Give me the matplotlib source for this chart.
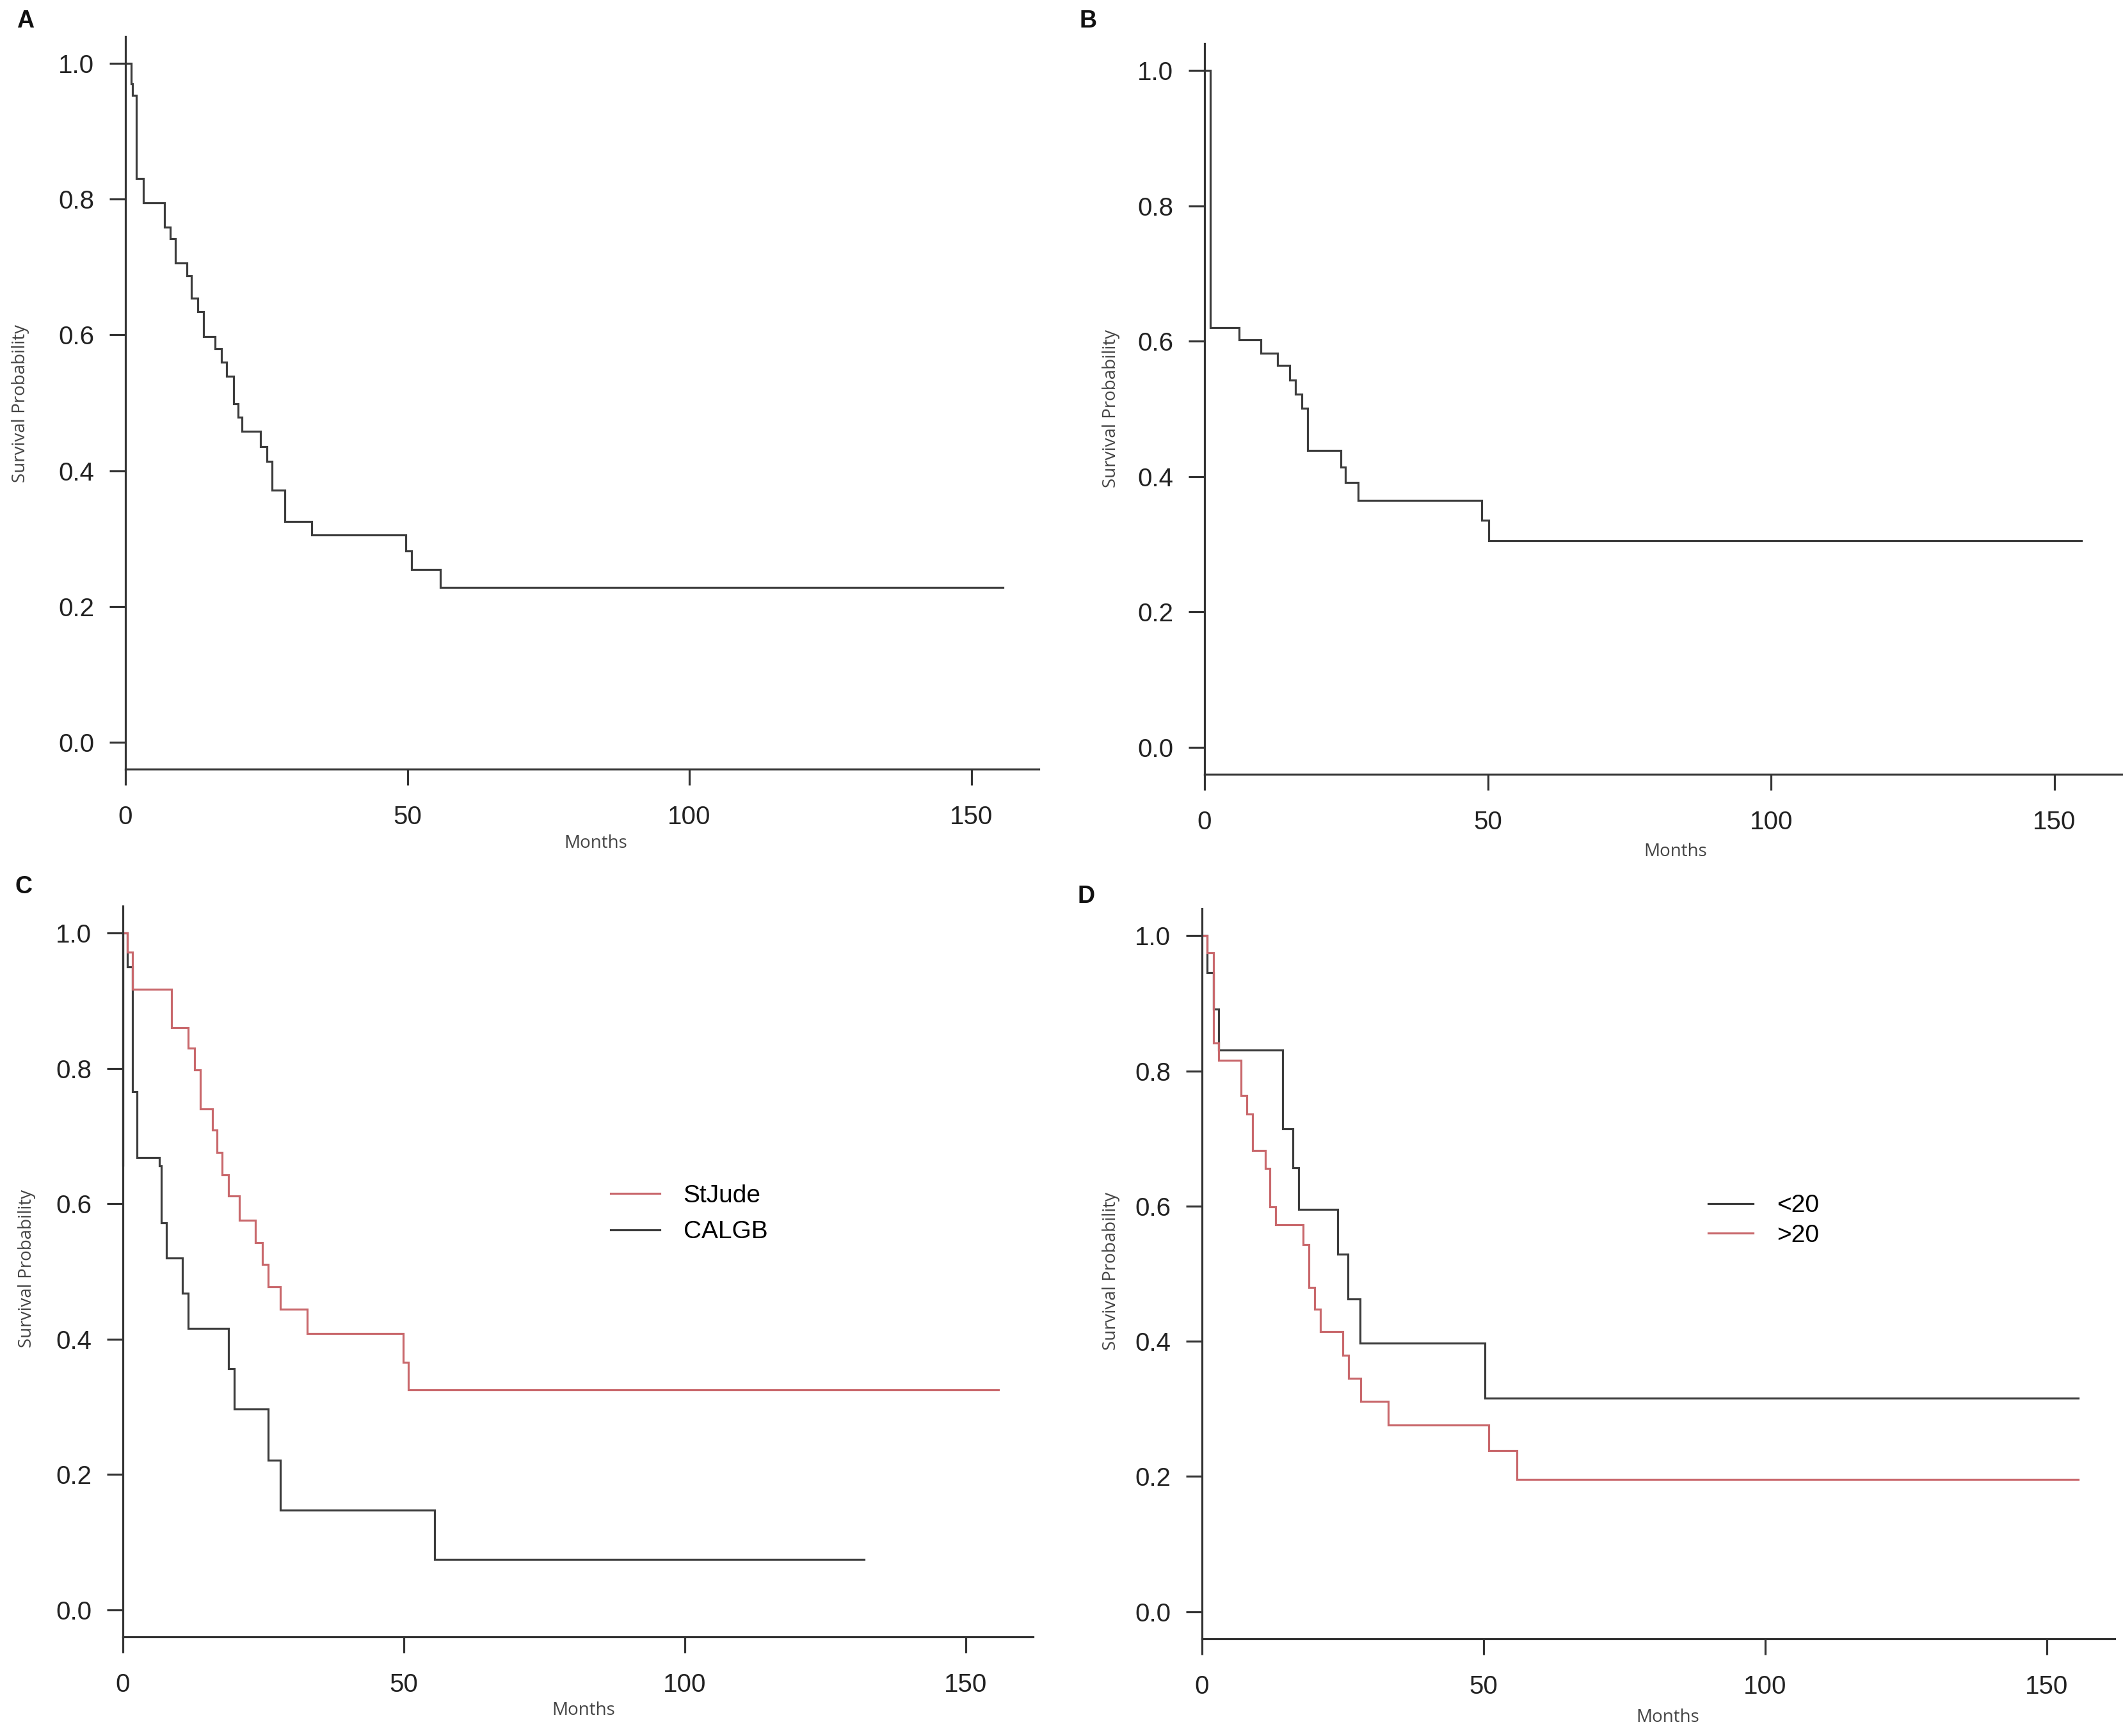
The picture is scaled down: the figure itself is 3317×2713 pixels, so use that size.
"""Kaplan-Meier survival curves, four panels (A-D)."""

import matplotlib
matplotlib.use("Agg")
import matplotlib.pyplot as plt

# ---- data (months, survival after each drop) ----
times_a = [0.98, 1.26, 1.95, 3.17, 6.9, 7.97, 8.8, 10.9, 11.7, 12.8, 13.8, 15.9,
           17.0, 17.9, 19.2, 20.0, 20.7, 23.9, 25.1, 26.0, 28.3, 33.0, 49.7, 50.7, 55.8]
surv_a = [0.970, 0.953, 0.831, 0.795, 0.759, 0.742, 0.706, 0.687, 0.654, 0.634, 0.598,
          0.580, 0.560, 0.539, 0.499, 0.479, 0.458, 0.435, 0.414, 0.371, 0.325, 0.305,
          0.282, 0.254, 0.228]
end_a = 155.6

times_b = [0.97, 6.06, 9.98, 12.9, 15.0, 16.0, 17.2, 18.2, 24.1, 24.9, 27.1, 48.9, 50.2]
surv_b = [0.620, 0.602, 0.582, 0.564, 0.543, 0.522, 0.501, 0.439, 0.414, 0.391, 0.365,
          0.335, 0.305]
end_b = 154.8

times_stjude = [0.83, 1.74, 8.6, 11.6, 12.8, 13.8, 15.9, 16.7, 17.7, 18.8, 20.7, 23.6,
                24.8, 25.8, 28.0, 32.8, 49.9, 50.8]
surv_stjude = [0.972, 0.917, 0.860, 0.830, 0.798, 0.740, 0.709, 0.676, 0.643, 0.612,
               0.576, 0.543, 0.510, 0.477, 0.444, 0.408, 0.366, 0.325]
end_stjude = 155.8

times_calgb = [0.75, 1.74, 2.5, 6.5, 6.8, 7.7, 10.6, 11.6, 18.8, 19.8, 25.9, 28.0, 55.5]
surv_calgb = [0.950, 0.766, 0.668, 0.656, 0.572, 0.520, 0.468, 0.416, 0.356, 0.297,
              0.221, 0.147, 0.074]
end_calgb = 131.9

# short black trace sitting on the y axis in panel C
times_c_extra = [0.0, 0.0]
surv_c_extra = [0.843, 0.657]

times_lt20 = [0.95, 2.08, 3.0, 14.3, 16.1, 17.2, 24.1, 25.9, 28.1, 50.2]
surv_lt20 = [0.945, 0.891, 0.831, 0.714, 0.657, 0.595, 0.529, 0.463, 0.397, 0.316]
end_lt20 = 155.6

times_gt20 = [0.95, 2.08, 3.0, 6.9, 8.0, 9.0, 11.3, 12.1, 13.1, 18.0, 19.0, 20.0, 21.0,
              25.0, 26.0, 28.2, 33.1, 50.9, 55.9]
surv_gt20 = [0.975, 0.841, 0.816, 0.764, 0.736, 0.682, 0.656, 0.599, 0.572, 0.543,
             0.480, 0.447, 0.414, 0.379, 0.345, 0.311, 0.276, 0.238, 0.196]
end_gt20 = 155.6

x_ticks = [0, 50, 100, 150]
y_ticks = [0.0, 0.2, 0.4, 0.6, 0.8, 1.0]
y_tick_labels = ["0.0", "0.2", "0.4", "0.6", "0.8", "1.0"]

GRAY = "#3c3c3c"
RED = "#c9686c"
AXIS = "#333333"
W, H = 3317, 2713


def px_box(left, top, right, bottom):
    """Pixel box (from top-left) -> figure fraction rect."""
    return [left / W, 1 - bottom / H, (right - left) / W, (bottom - top) / H]


def km_step(ax, times, surv, end, color):
    xs = [0.0] + list(times) + [end]
    ys = [1.0] + list(surv) + [surv[-1]]
    ax.step(xs, ys, where="post", color=color, lw=2.3, solid_joinstyle="miter")


def style_axes(ax):
    ax.set_xlim(0, 162)
    ax.set_ylim(-0.04, 1.04)
    for side in ("top", "right"):
        ax.spines[side].set_visible(False)
    for side in ("left", "bottom"):
        ax.spines[side].set_color(AXIS)
        ax.spines[side].set_linewidth(2.3)
    ax.set_xticks(x_ticks)
    ax.set_xticklabels([str(t) for t in x_ticks])
    ax.set_yticks(y_ticks)
    ax.set_yticklabels(y_tick_labels)
    ax.tick_params(axis="both", length=18, width=2.3, color=AXIS,
                   labelsize=29, labelcolor="#222222")
    ax.tick_params(axis="y", pad=17)
    ax.tick_params(axis="x", pad=22)
    for lab in ax.get_xticklabels() + ax.get_yticklabels():
        lab.set_fontfamily("Liberation Sans")


fig = plt.figure(figsize=(W / 100, H / 100), dpi=100)

# axes boxes in reference pixels: x=0 .. 162 months, y=-0.04 .. 1.04
ax_a = fig.add_axes(px_box(196, 57, 196 + 162 * 8.81, 1202))
ax_b = fig.add_axes(px_box(1882, 68, 1882 + 162 * 8.853, 1210))
ax_c = fig.add_axes(px_box(192, 1416, 192 + 162 * 8.78, 2558))
ax_d = fig.add_axes(px_box(1878, 1420, 1878 + 162 * 8.80, 2561))

for ax in (ax_a, ax_b, ax_c, ax_d):
    style_axes(ax)

km_step(ax_a, times_a, surv_a, end_a, GRAY)
km_step(ax_b, times_b, surv_b, end_b, GRAY)

km_step(ax_c, times_calgb, surv_calgb, end_calgb, GRAY)
ax_c.plot([times_c_extra[0]] * 3, [1.0] + surv_c_extra, color=GRAY, lw=2.3, clip_on=False)
km_step(ax_c, times_stjude, surv_stjude, end_stjude, RED)

km_step(ax_d, times_lt20, surv_lt20, end_lt20, GRAY)
km_step(ax_d, times_gt20, surv_gt20, end_gt20, RED)

# legends
leg_font = {"family": "Liberation Sans", "size": 28}
h_st, = ax_c.plot([], [], color=RED, lw=2.3)
h_ca, = ax_c.plot([], [], color=GRAY, lw=2.3)
ax_c.legend([h_st, h_ca], ["StJude", "CALGB"], loc="upper left",
            bbox_to_anchor=(0.5355, 0.619), frameon=False, prop=leg_font,
            handlelength=1.98, handletextpad=0.95, labelspacing=0.52,
            borderpad=0, borderaxespad=0)

h_lt, = ax_d.plot([], [], color=GRAY, lw=2.3)
h_gt, = ax_d.plot([], [], color=RED, lw=2.3)
ax_d.legend([h_lt, h_gt], ["<20", ">20"], loc="upper left",
            bbox_to_anchor=(0.555, 0.609), frameon=False, prop=leg_font,
            handlelength=1.8, handletextpad=0.95, labelspacing=0.27,
            borderpad=0, borderaxespad=0)

# axis titles and panel letters (reference pixel positions)
lab_kw = dict(family="Open Sans", fontsize=20, color="#444444", ha="center", va="center")
for (xl, yl), (xm, ym) in [((32, 631), (931, 1318)),
                           ((1736, 639), (2618, 1331)),
                           ((42, 1983), (912, 2673)),
                           ((1736, 1986), (2606, 2684))]:
    fig.text(xl / W, 1 - yl / H, "Survival Probability", rotation=90, **lab_kw)
    fig.text(xm / W, 1 - ym / H, "Months", **lab_kw)

for letter, (xp, yp) in zip("ABCD", [(40, 33), (1700, 33), (37, 1386), (1697, 1401)]):
    fig.text(xp / W, 1 - yp / H, letter, family="Liberation Sans", fontsize=27,
             fontweight="bold", color="#111111", ha="center", va="center")

fig.savefig("out.png", dpi=100)
